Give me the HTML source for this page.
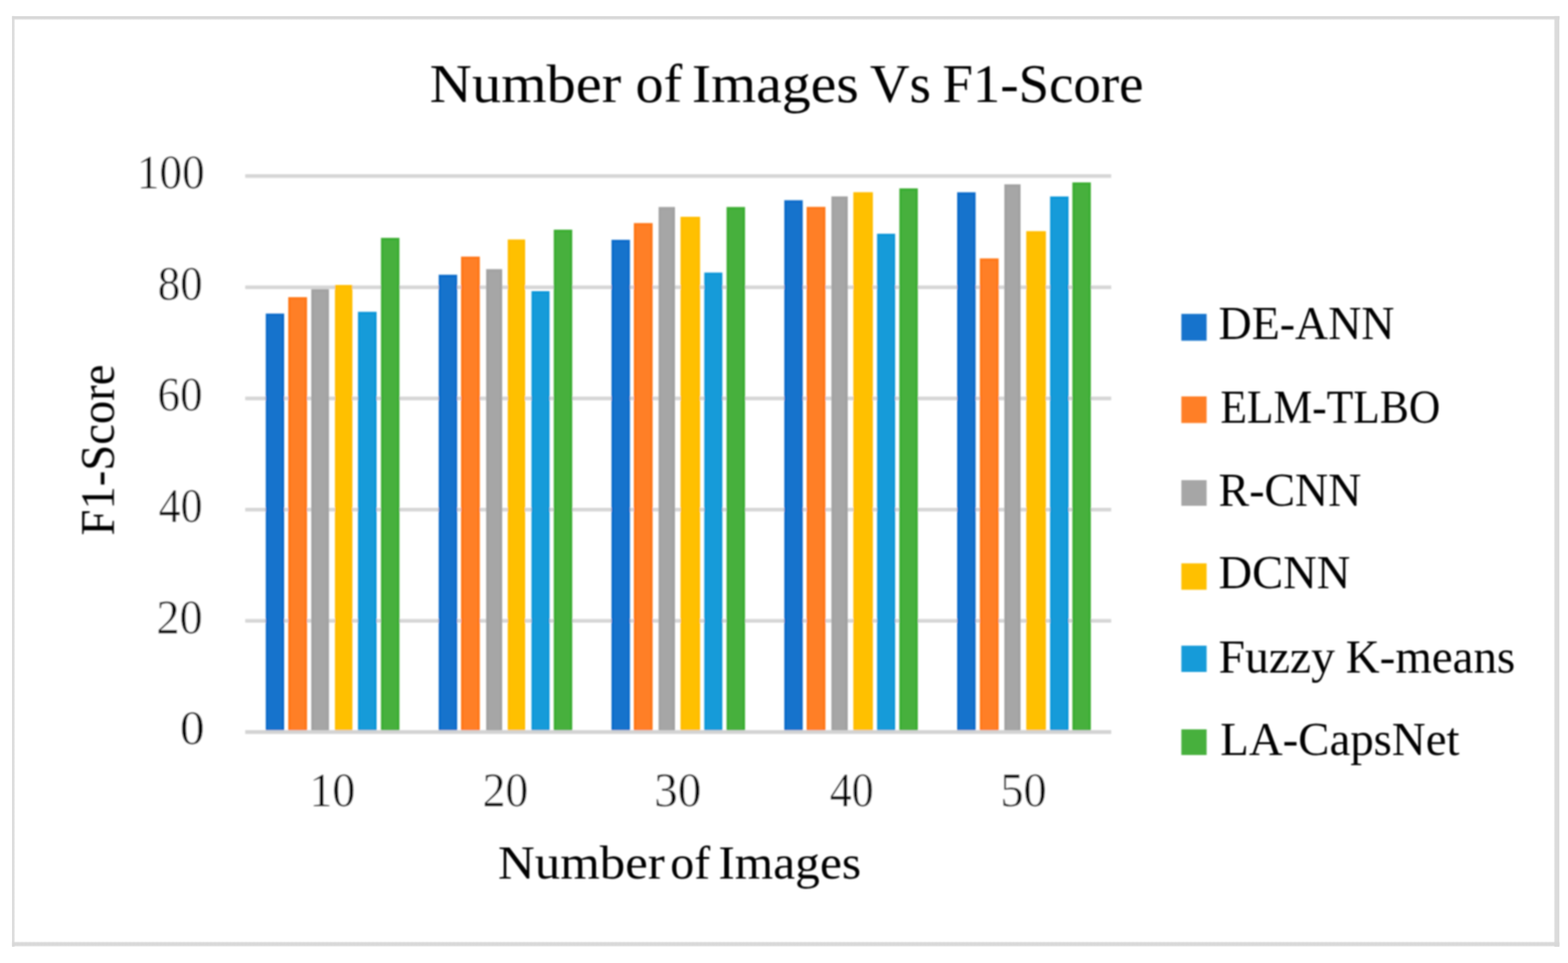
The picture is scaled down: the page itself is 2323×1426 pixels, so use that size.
<!DOCTYPE html>
<html lang="en">
<head>
<meta charset="utf-8">
<title>Number of Images Vs F1-Score</title>
<style>
html,body{margin:0;padding:0;background:#ffffff;}
body{width:2323px;height:1426px;overflow:hidden;}
svg{display:block;}
text{font-family:"Liberation Serif","DejaVu Serif",serif;fill:#000000;stroke:#ffffff;stroke-width:0px;}
text.num{stroke-width:0.6px;}
</style>
</head>
<body>
<svg role="img" aria-label="Number of Images Vs F1-Score bar chart" width="2323" height="1426" viewBox="0 0 2323 1426">
<defs>
<linearGradient id="gTop" x1="0" y1="0" x2="0" y2="1"><stop offset="0" stop-color="#d8d8d8" stop-opacity="0.5"/><stop offset="0.07" stop-color="#d8d8d8" stop-opacity="1"/><stop offset="0.55" stop-color="#d8d8d8" stop-opacity="1"/><stop offset="0.78" stop-color="#d8d8d8" stop-opacity="0.5"/><stop offset="1" stop-color="#d8d8d8" stop-opacity="0"/></linearGradient>
<linearGradient id="gBot" x1="0" y1="0" x2="0" y2="1"><stop offset="0" stop-color="#d8d8d8" stop-opacity="0"/><stop offset="0.14" stop-color="#d8d8d8" stop-opacity="0.3"/><stop offset="0.3" stop-color="#d8d8d8" stop-opacity="0.95"/><stop offset="0.55" stop-color="#d8d8d8" stop-opacity="1"/><stop offset="0.74" stop-color="#d8d8d8" stop-opacity="0.95"/><stop offset="0.9" stop-color="#d8d8d8" stop-opacity="0.5"/><stop offset="1" stop-color="#d8d8d8" stop-opacity="0"/></linearGradient>
<linearGradient id="gLeft" x1="0" y1="0" x2="1" y2="0"><stop offset="0" stop-color="#d8d8d8" stop-opacity="0.6"/><stop offset="0.1" stop-color="#d8d8d8" stop-opacity="0.97"/><stop offset="0.5" stop-color="#d8d8d8" stop-opacity="0.95"/><stop offset="0.6" stop-color="#d8d8d8" stop-opacity="0.6"/><stop offset="0.88" stop-color="#d8d8d8" stop-opacity="0.5"/><stop offset="1" stop-color="#d8d8d8" stop-opacity="0"/></linearGradient>
<linearGradient id="gRight" x1="0" y1="0" x2="1" y2="0"><stop offset="0" stop-color="#d8d8d8" stop-opacity="0"/><stop offset="0.12" stop-color="#d8d8d8" stop-opacity="0.3"/><stop offset="0.27" stop-color="#d8d8d8" stop-opacity="0.92"/><stop offset="0.9" stop-color="#d8d8d8" stop-opacity="0.95"/><stop offset="1" stop-color="#d8d8d8" stop-opacity="0.2"/></linearGradient>
<filter id="soft" x="-2%" y="-2%" width="104%" height="104%"><feGaussianBlur stdDeviation="0.85"/></filter>
<filter id="softt" x="-5%" y="-20%" width="110%" height="140%"><feGaussianBlur stdDeviation="0.85"/></filter>
</defs>
<rect x="0" y="0" width="2323" height="1426" fill="#ffffff"/>
<g id="frame">
<rect x="17.8" y="23.8" width="4.8" height="1378.2" fill="url(#gLeft)"/>
<rect x="2301.4" y="23.8" width="9.2" height="1378.2" fill="url(#gRight)"/>
<rect x="17.8" y="23.8" width="2292.6" height="6.3" fill="url(#gTop)"/>
<rect x="17.8" y="1393.4" width="2292.6" height="8.7" fill="url(#gBot)"/>
</g>
<g id="plot" filter="url(#soft)">
<g id="grid">
<rect x="363.3" y="258.0" width="1283.0" height="5.4" fill="#d6d6d6"/>
<rect x="363.3" y="422.7" width="1283.0" height="5.4" fill="#d6d6d6"/>
<rect x="363.3" y="587.3" width="1283.0" height="5.4" fill="#d6d6d6"/>
<rect x="363.3" y="752.0" width="1283.0" height="5.4" fill="#d6d6d6"/>
<rect x="363.3" y="916.6" width="1283.0" height="5.4" fill="#d6d6d6"/>
</g>
<g id="bars">
<rect x="393.7" y="464.3" width="27.3" height="618.7" fill="#1873cc"/>
<rect x="395.9" y="466.7" width="22.9" height="615.1" fill="none" stroke="#0568c9" stroke-width="2.6" stroke-opacity="0.75"/>
<rect x="427.0" y="440.0" width="27.9" height="643.0" fill="#ff7f27"/>
<rect x="429.2" y="442.4" width="23.5" height="639.4" fill="none" stroke="#ff7411" stroke-width="2.6" stroke-opacity="0.75"/>
<rect x="461.1" y="428.2" width="26.3" height="654.8" fill="#a6a6a6"/>
<rect x="463.3" y="430.6" width="21.9" height="651.2" fill="none" stroke="#9f9f9f" stroke-width="2.6" stroke-opacity="0.75"/>
<rect x="496.2" y="422.0" width="25.9" height="661.0" fill="#ffc000"/>
<rect x="498.4" y="424.4" width="21.5" height="657.4" fill="none" stroke="#ffbb00" stroke-width="2.6" stroke-opacity="0.75"/>
<rect x="530.3" y="461.7" width="27.7" height="621.3" fill="#189bd9"/>
<rect x="532.5" y="464.1" width="23.3" height="617.7" fill="none" stroke="#0595d8" stroke-width="2.6" stroke-opacity="0.75"/>
<rect x="564.4" y="352.2" width="27.4" height="730.8" fill="#46b03c"/>
<rect x="566.6" y="354.6" width="23.0" height="727.2" fill="none" stroke="#35ac2c" stroke-width="2.6" stroke-opacity="0.75"/>
<rect x="649.9" y="406.8" width="27.4" height="676.2" fill="#1873cc"/>
<rect x="652.1" y="409.2" width="23.0" height="672.6" fill="none" stroke="#0568c9" stroke-width="2.6" stroke-opacity="0.75"/>
<rect x="683.0" y="379.9" width="27.9" height="703.1" fill="#ff7f27"/>
<rect x="685.2" y="382.3" width="23.5" height="699.5" fill="none" stroke="#ff7411" stroke-width="2.6" stroke-opacity="0.75"/>
<rect x="720.2" y="398.5" width="23.8" height="684.5" fill="#a6a6a6"/>
<rect x="722.4" y="400.9" width="19.4" height="680.9" fill="none" stroke="#9f9f9f" stroke-width="2.6" stroke-opacity="0.75"/>
<rect x="752.2" y="354.6" width="25.8" height="728.4" fill="#ffc000"/>
<rect x="754.4" y="357.0" width="21.4" height="724.8" fill="none" stroke="#ffbb00" stroke-width="2.6" stroke-opacity="0.75"/>
<rect x="787.4" y="431.1" width="26.8" height="651.9" fill="#189bd9"/>
<rect x="789.6" y="433.5" width="22.4" height="648.3" fill="none" stroke="#0595d8" stroke-width="2.6" stroke-opacity="0.75"/>
<rect x="820.4" y="340.1" width="27.4" height="742.9" fill="#46b03c"/>
<rect x="822.6" y="342.5" width="23.0" height="739.3" fill="none" stroke="#35ac2c" stroke-width="2.6" stroke-opacity="0.75"/>
<rect x="905.9" y="355.1" width="27.4" height="727.9" fill="#1873cc"/>
<rect x="908.1" y="357.5" width="23.0" height="724.3" fill="none" stroke="#0568c9" stroke-width="2.6" stroke-opacity="0.75"/>
<rect x="939.0" y="330.3" width="27.9" height="752.7" fill="#ff7f27"/>
<rect x="941.2" y="332.7" width="23.5" height="749.1" fill="none" stroke="#ff7411" stroke-width="2.6" stroke-opacity="0.75"/>
<rect x="975.7" y="306.5" width="24.3" height="776.5" fill="#a6a6a6"/>
<rect x="977.9" y="308.9" width="19.9" height="772.9" fill="none" stroke="#9f9f9f" stroke-width="2.6" stroke-opacity="0.75"/>
<rect x="1008.2" y="321.0" width="29.0" height="762.0" fill="#ffc000"/>
<rect x="1010.4" y="323.4" width="24.6" height="758.4" fill="none" stroke="#ffbb00" stroke-width="2.6" stroke-opacity="0.75"/>
<rect x="1043.4" y="403.6" width="26.8" height="679.4" fill="#189bd9"/>
<rect x="1045.6" y="406.0" width="22.4" height="675.8" fill="none" stroke="#0595d8" stroke-width="2.6" stroke-opacity="0.75"/>
<rect x="1076.4" y="306.5" width="27.4" height="776.5" fill="#46b03c"/>
<rect x="1078.6" y="308.9" width="23.0" height="772.9" fill="none" stroke="#35ac2c" stroke-width="2.6" stroke-opacity="0.75"/>
<rect x="1161.9" y="296.5" width="27.4" height="786.5" fill="#1873cc"/>
<rect x="1164.1" y="298.9" width="23.0" height="782.9" fill="none" stroke="#0568c9" stroke-width="2.6" stroke-opacity="0.75"/>
<rect x="1195.0" y="306.3" width="27.9" height="776.7" fill="#ff7f27"/>
<rect x="1197.2" y="308.7" width="23.5" height="773.1" fill="none" stroke="#ff7411" stroke-width="2.6" stroke-opacity="0.75"/>
<rect x="1231.7" y="290.8" width="24.3" height="792.2" fill="#a6a6a6"/>
<rect x="1233.9" y="293.2" width="19.9" height="788.6" fill="none" stroke="#9f9f9f" stroke-width="2.6" stroke-opacity="0.75"/>
<rect x="1264.2" y="284.6" width="29.0" height="798.4" fill="#ffc000"/>
<rect x="1266.4" y="287.0" width="24.6" height="794.8" fill="none" stroke="#ffbb00" stroke-width="2.6" stroke-opacity="0.75"/>
<rect x="1299.4" y="346.1" width="26.8" height="736.9" fill="#189bd9"/>
<rect x="1301.6" y="348.5" width="22.4" height="733.3" fill="none" stroke="#0595d8" stroke-width="2.6" stroke-opacity="0.75"/>
<rect x="1332.4" y="278.9" width="27.4" height="804.1" fill="#46b03c"/>
<rect x="1334.6" y="281.3" width="23.0" height="800.5" fill="none" stroke="#35ac2c" stroke-width="2.6" stroke-opacity="0.75"/>
<rect x="1418.0" y="284.7" width="27.4" height="798.3" fill="#1873cc"/>
<rect x="1420.2" y="287.1" width="23.0" height="794.7" fill="none" stroke="#0568c9" stroke-width="2.6" stroke-opacity="0.75"/>
<rect x="1451.6" y="382.6" width="27.9" height="700.4" fill="#ff7f27"/>
<rect x="1453.8" y="385.0" width="23.5" height="696.8" fill="none" stroke="#ff7411" stroke-width="2.6" stroke-opacity="0.75"/>
<rect x="1487.9" y="272.9" width="24.1" height="810.1" fill="#a6a6a6"/>
<rect x="1490.1" y="275.3" width="19.7" height="806.5" fill="none" stroke="#9f9f9f" stroke-width="2.6" stroke-opacity="0.75"/>
<rect x="1520.4" y="342.3" width="29.1" height="740.7" fill="#ffc000"/>
<rect x="1522.6" y="344.7" width="24.7" height="737.1" fill="none" stroke="#ffbb00" stroke-width="2.6" stroke-opacity="0.75"/>
<rect x="1555.7" y="290.9" width="27.4" height="792.1" fill="#189bd9"/>
<rect x="1557.9" y="293.3" width="23.0" height="788.5" fill="none" stroke="#0595d8" stroke-width="2.6" stroke-opacity="0.75"/>
<rect x="1588.7" y="270.1" width="27.4" height="812.9" fill="#46b03c"/>
<rect x="1590.9" y="272.5" width="23.0" height="809.3" fill="none" stroke="#35ac2c" stroke-width="2.6" stroke-opacity="0.75"/>
</g>
<rect id="axis" x="363.3" y="1081.2" width="1283.0" height="5.6" fill="#d3d3d3"/>
<g id="legend-swatches">
<rect x="1750.2" y="464.8" width="37.4" height="39.7" fill="#1873cc"/>
<rect x="1750.2" y="587.0" width="37.4" height="39.4" fill="#ff7f27"/>
<rect x="1750.2" y="711.0" width="37.4" height="38.0" fill="#a6a6a6"/>
<rect x="1750.2" y="834.2" width="37.4" height="39.1" fill="#ffc000"/>
<rect x="1750.2" y="956.1" width="37.4" height="38.9" fill="#189bd9"/>
<rect x="1750.2" y="1080.0" width="37.4" height="38.0" fill="#46b03c"/>
</g>
</g>
<g id="labels" filter="url(#softt)">
<text y="151.30" font-size="80.61"><tspan x="636.64" textLength="283.76" lengthAdjust="spacingAndGlyphs">Number</tspan> <tspan x="941.49" textLength="69.35" lengthAdjust="spacingAndGlyphs">of</tspan> <tspan x="1025.00" textLength="247.43" lengthAdjust="spacingAndGlyphs">Images</tspan> <tspan x="1288.79" textLength="90.50" lengthAdjust="spacingAndGlyphs">Vs</tspan> <tspan x="1396.17" textLength="297.98" lengthAdjust="spacingAndGlyphs">F1-Score</tspan></text>
<text class="num" x="202.71" y="279.20" font-size="71.76" textLength="100.43" lengthAdjust="spacingAndGlyphs">100</text>
<text class="num" x="233.67" y="443.90" font-size="71.76" textLength="66.45" lengthAdjust="spacingAndGlyphs">80</text>
<text class="num" x="233.33" y="608.40" font-size="71.76" textLength="66.81" lengthAdjust="spacingAndGlyphs">60</text>
<text class="num" x="234.92" y="773.10" font-size="71.76" textLength="65.16" lengthAdjust="spacingAndGlyphs">40</text>
<text class="num" x="231.76" y="937.70" font-size="71.76" textLength="68.43" lengthAdjust="spacingAndGlyphs">20</text>
<text class="num" x="266.64" y="1102.30" font-size="71.76" textLength="36.63" lengthAdjust="spacingAndGlyphs">0</text>
<text class="num" x="458.19" y="1194.00" font-size="71.76" textLength="68.30" lengthAdjust="spacingAndGlyphs">10</text>
<text class="num" x="714.89" y="1194.00" font-size="71.76" textLength="67.78" lengthAdjust="spacingAndGlyphs">20</text>
<text class="num" x="969.37" y="1194.00" font-size="71.76" textLength="69.57" lengthAdjust="spacingAndGlyphs">30</text>
<text class="num" x="1229.22" y="1194.00" font-size="71.76" textLength="65.26" lengthAdjust="spacingAndGlyphs">40</text>
<text class="num" x="1481.91" y="1194.00" font-size="71.76" textLength="68.90" lengthAdjust="spacingAndGlyphs">50</text>
<text y="1300.70" font-size="70.69"><tspan x="737.71" textLength="247.19" lengthAdjust="spacingAndGlyphs">Number</tspan> <tspan x="993.12" textLength="59.14" lengthAdjust="spacingAndGlyphs">of</tspan> <tspan x="1064.24" textLength="211.46" lengthAdjust="spacingAndGlyphs">Images</tspan></text>
<text x="1805.30" y="502.00" font-size="70.69" textLength="260.71" lengthAdjust="spacingAndGlyphs">DE-ANN</text>
<text x="1807.89" y="626.00" font-size="70.69" textLength="325.91" lengthAdjust="spacingAndGlyphs">ELM-TLBO</text>
<text x="1805.30" y="748.60" font-size="70.69" textLength="211.51" lengthAdjust="spacingAndGlyphs">R-CNN</text>
<text x="1805.28" y="871.20" font-size="70.69" textLength="195.15" lengthAdjust="spacingAndGlyphs">DCNN</text>
<text y="995.80" font-size="70.69"><tspan x="1805.24" textLength="172.46" lengthAdjust="spacingAndGlyphs">Fuzzy</tspan> <tspan x="1993.86" textLength="250.91" lengthAdjust="spacingAndGlyphs">K-means</tspan></text>
<text x="1807.77" y="1117.80" font-size="70.69" textLength="354.53" lengthAdjust="spacingAndGlyphs">LA-CapsNet</text>
<text transform="translate(168.70 793.03) rotate(-90)" x="0" y="0" font-size="71.76" textLength="253.27" lengthAdjust="spacingAndGlyphs">F1-Score</text>
</g>
</svg>
</body>
</html>
